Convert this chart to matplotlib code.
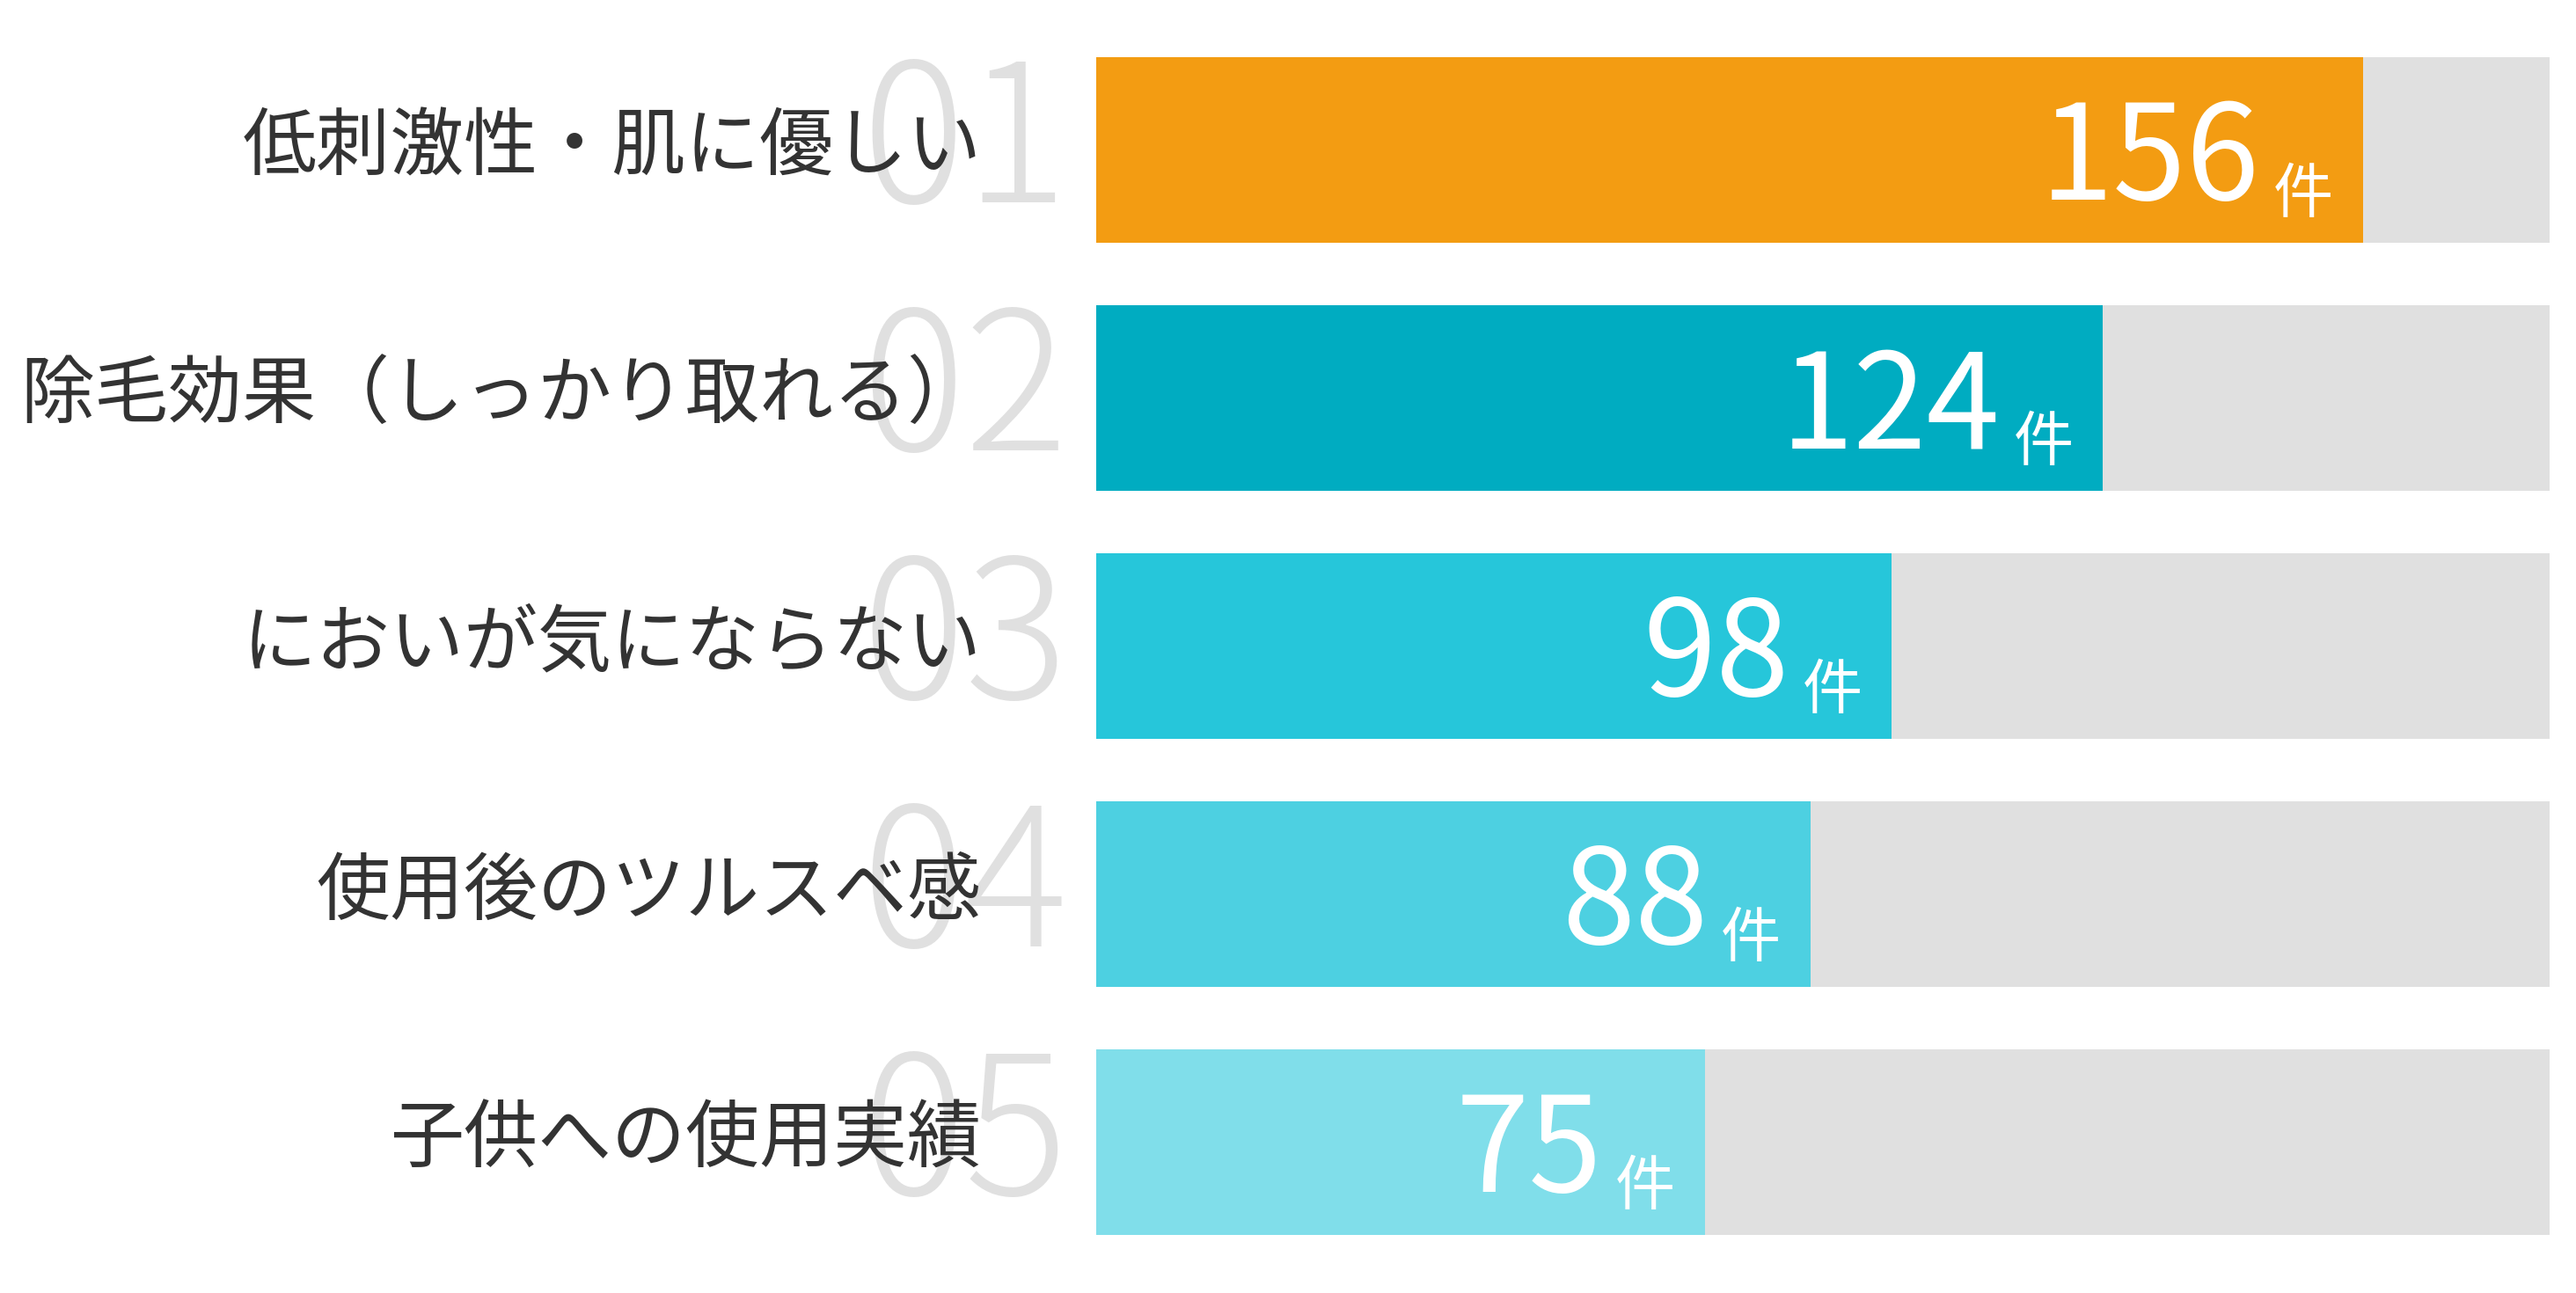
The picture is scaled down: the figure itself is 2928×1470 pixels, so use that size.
import matplotlib.pyplot as plt
from matplotlib.transforms import blended_transform_factory

plt.rcParams['font.family'] = ['Noto Sans CJK JP', 'DejaVu Sans']

# data
categories = [
    "低刺激性・肌に優しい",
    "除毛効果（しっかり取れる）",
    "においが気にならない",
    "使用後のツルスベ感",
    "子供への使用実績",
]
ranks = ["01", "02", "03", "04", "05"]
counts = [156, 124, 98, 88, 75]
scale_max = 179
colors = ["#F39C12", "#00ACC1", "#26C6DA", "#4DD0E1", "#80DEEA"]

track_color = "#E0E0E0"
rank_color = "#E0E0E0"
label_color = "#333333"

W, H = 2928, 1470
DPI = 100
fig = plt.figure(figsize=(W / DPI, H / DPI), dpi=DPI)

# axes placed so that bars start at x=1246 and the track ends at x=2898
ax_left = 1246 / W
ax_width = (2898 - 1246) / W
ax_bottom = (H - 1439.5) / H
ax_height = 1410 / H
ax = fig.add_axes([ax_left, ax_bottom, ax_width, ax_height])

y = list(range(len(categories)))
bar_h = 0.75

ax.barh(y, [scale_max] * len(y), height=bar_h, color=track_color, zorder=1)
ax.barh(y, counts, height=bar_h, color=colors, zorder=2)

ax.set_xlim(0, scale_max)
ax.set_ylim(len(y) - 0.5, -0.5)
ax.axis("off")

trans = blended_transform_factory(ax.transAxes, ax.transData)

for i, (cat, rank, val) in enumerate(zip(categories, ranks, counts)):
    # big grey rank number behind the label
    ax.annotate(rank, xy=(-0.0194, i), xycoords=trans,
                xytext=(0, -43), textcoords="offset points",
                ha="right", va="baseline", fontsize=158,
                fontweight="light", color=rank_color,
                annotation_clip=False, zorder=3)
    # category label
    ax.annotate(cat, xy=(-0.079, i), xycoords=trans,
                xytext=(0, -16), textcoords="offset points",
                ha="right", va="baseline", fontsize=60.5,
                color=label_color, annotation_clip=False, zorder=4)
    # value and unit inside the bar
    ax.annotate(str(val), xy=(val, i), xycoords="data",
                xytext=(-84, -41), textcoords="offset points",
                ha="right", va="baseline", fontsize=108,
                color="white", zorder=5)
    ax.annotate("件", xy=(val, i), xycoords="data",
                xytext=(-24.5, -51.5), textcoords="offset points",
                ha="right", va="baseline", fontsize=49,
                color="white", zorder=5)

fig.savefig("out.png", dpi=DPI, facecolor="white")
